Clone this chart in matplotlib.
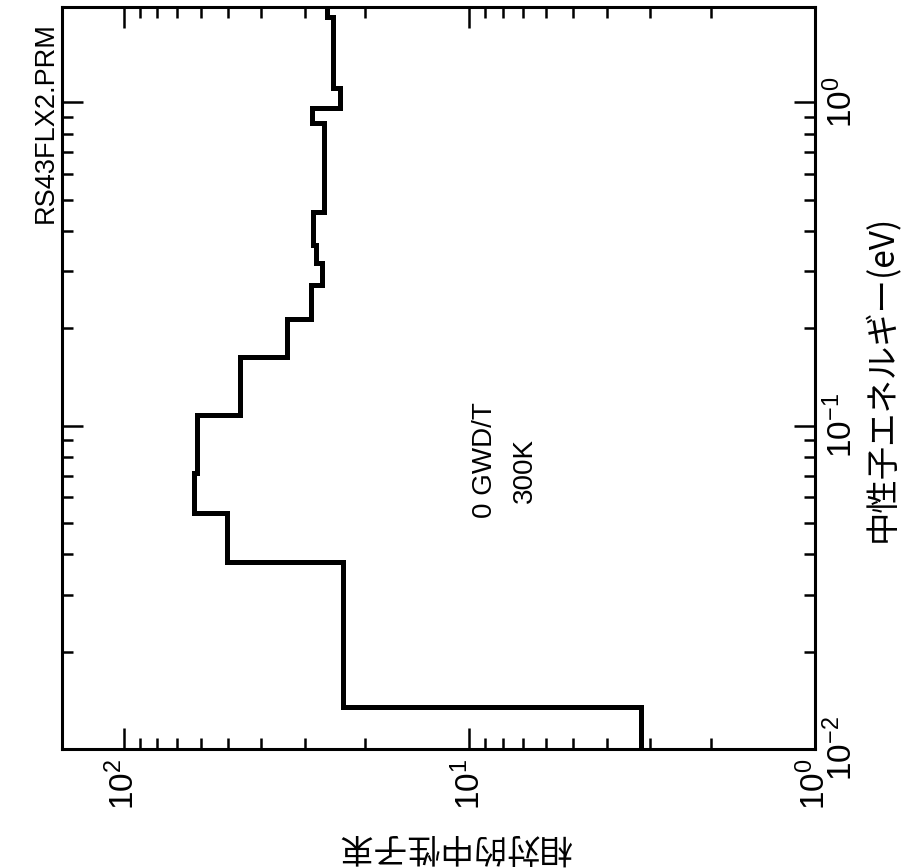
import matplotlib
matplotlib.use('Agg')
import matplotlib.pyplot as plt
from matplotlib.ticker import LogLocator, NullFormatter

plt.rcParams['font.family'] = ['Liberation Sans', 'Noto Sans CJK JP', 'DejaVu Sans']
plt.rcParams['mathtext.fontset'] = 'custom'
plt.rcParams['mathtext.rm'] = 'Liberation Sans'

# 中性子エネルギー群の境界 (eV)
energy_edges = [0.01, 0.0135, 0.0379, 0.0536, 0.0713, 0.108, 0.163, 0.213,
                0.272, 0.318, 0.361, 0.457, 0.861, 0.957, 1.105, 1.83, 1.97]
# 相対的中性子束
flux = [3.19, 23.3, 50.3, 62.6, 61.5, 46.1, 33.7, 28.7,
        26.7, 27.8, 28.3, 26.3, 28.5, 23.7, 24.8, 25.8]

title = 'RS43FLX2.PRM'
burnup = '0 GWD/T'
temp = '300K'

fig = plt.figure(figsize=(9.07, 8.68), dpi=100)
ax = fig.add_axes([0.0684, 0.1371, 0.8302, 0.8548])

# 回転した図: 横軸=中性子束(右へ減少), 縦軸=エネルギー
ax.stairs(flux, energy_edges, orientation='horizontal', baseline=None,
          color='black', linewidth=3.6)

ax.set_xscale('log')
ax.set_yscale('log')
ax.set_xlim(151, 1)
ax.set_ylim(0.01, 1.97)

for a in (ax.xaxis, ax.yaxis):
    a.set_major_locator(LogLocator(base=10))
    a.set_minor_locator(LogLocator(base=10, subs=range(2, 10)))
    a.set_minor_formatter(NullFormatter())

ax.tick_params(which='both', direction='in', top=True, bottom=True, left=True, right=True,
               labelleft=False, labelright=True, labelbottom=True, labeltop=False, width=1.8)
ax.tick_params(which='major', length=15, labelsize=24, pad=7)
ax.tick_params(which='minor', length=8)
for lab in ax.get_yticklabels():
    lab.set_rotation(90)
    lab.set_va('center')
for lab in ax.get_xticklabels():
    lab.set_rotation(90)
    lab.set_ha('center')
    lab.set_va('top')

for s in ax.spines.values():
    s.set_linewidth(2.2)

ax.yaxis.set_label_position('right')
ax.set_ylabel('中性子エネルギー(eV)', fontsize=24, rotation=90, labelpad=4)
ax.yaxis.label.set_family(['Noto Sans CJK JP', 'Liberation Sans'])

fig.text(0.502, 0.025, '相対的中性子束', fontsize=24, rotation=180,
         ha='center', va='center', family=['Noto Sans CJK JP'])

fig.text(0.05, 0.859, title, fontsize=19.5, rotation=90, ha='center', va='center')

ax.text(0.562, 0.39, burnup, transform=ax.transAxes, fontsize=20, rotation=90,
        ha='center', va='center')
ax.text(0.615, 0.376, temp, transform=ax.transAxes, fontsize=20, rotation=90,
        ha='center', va='center')

fig.savefig('out.png', dpi=100)
